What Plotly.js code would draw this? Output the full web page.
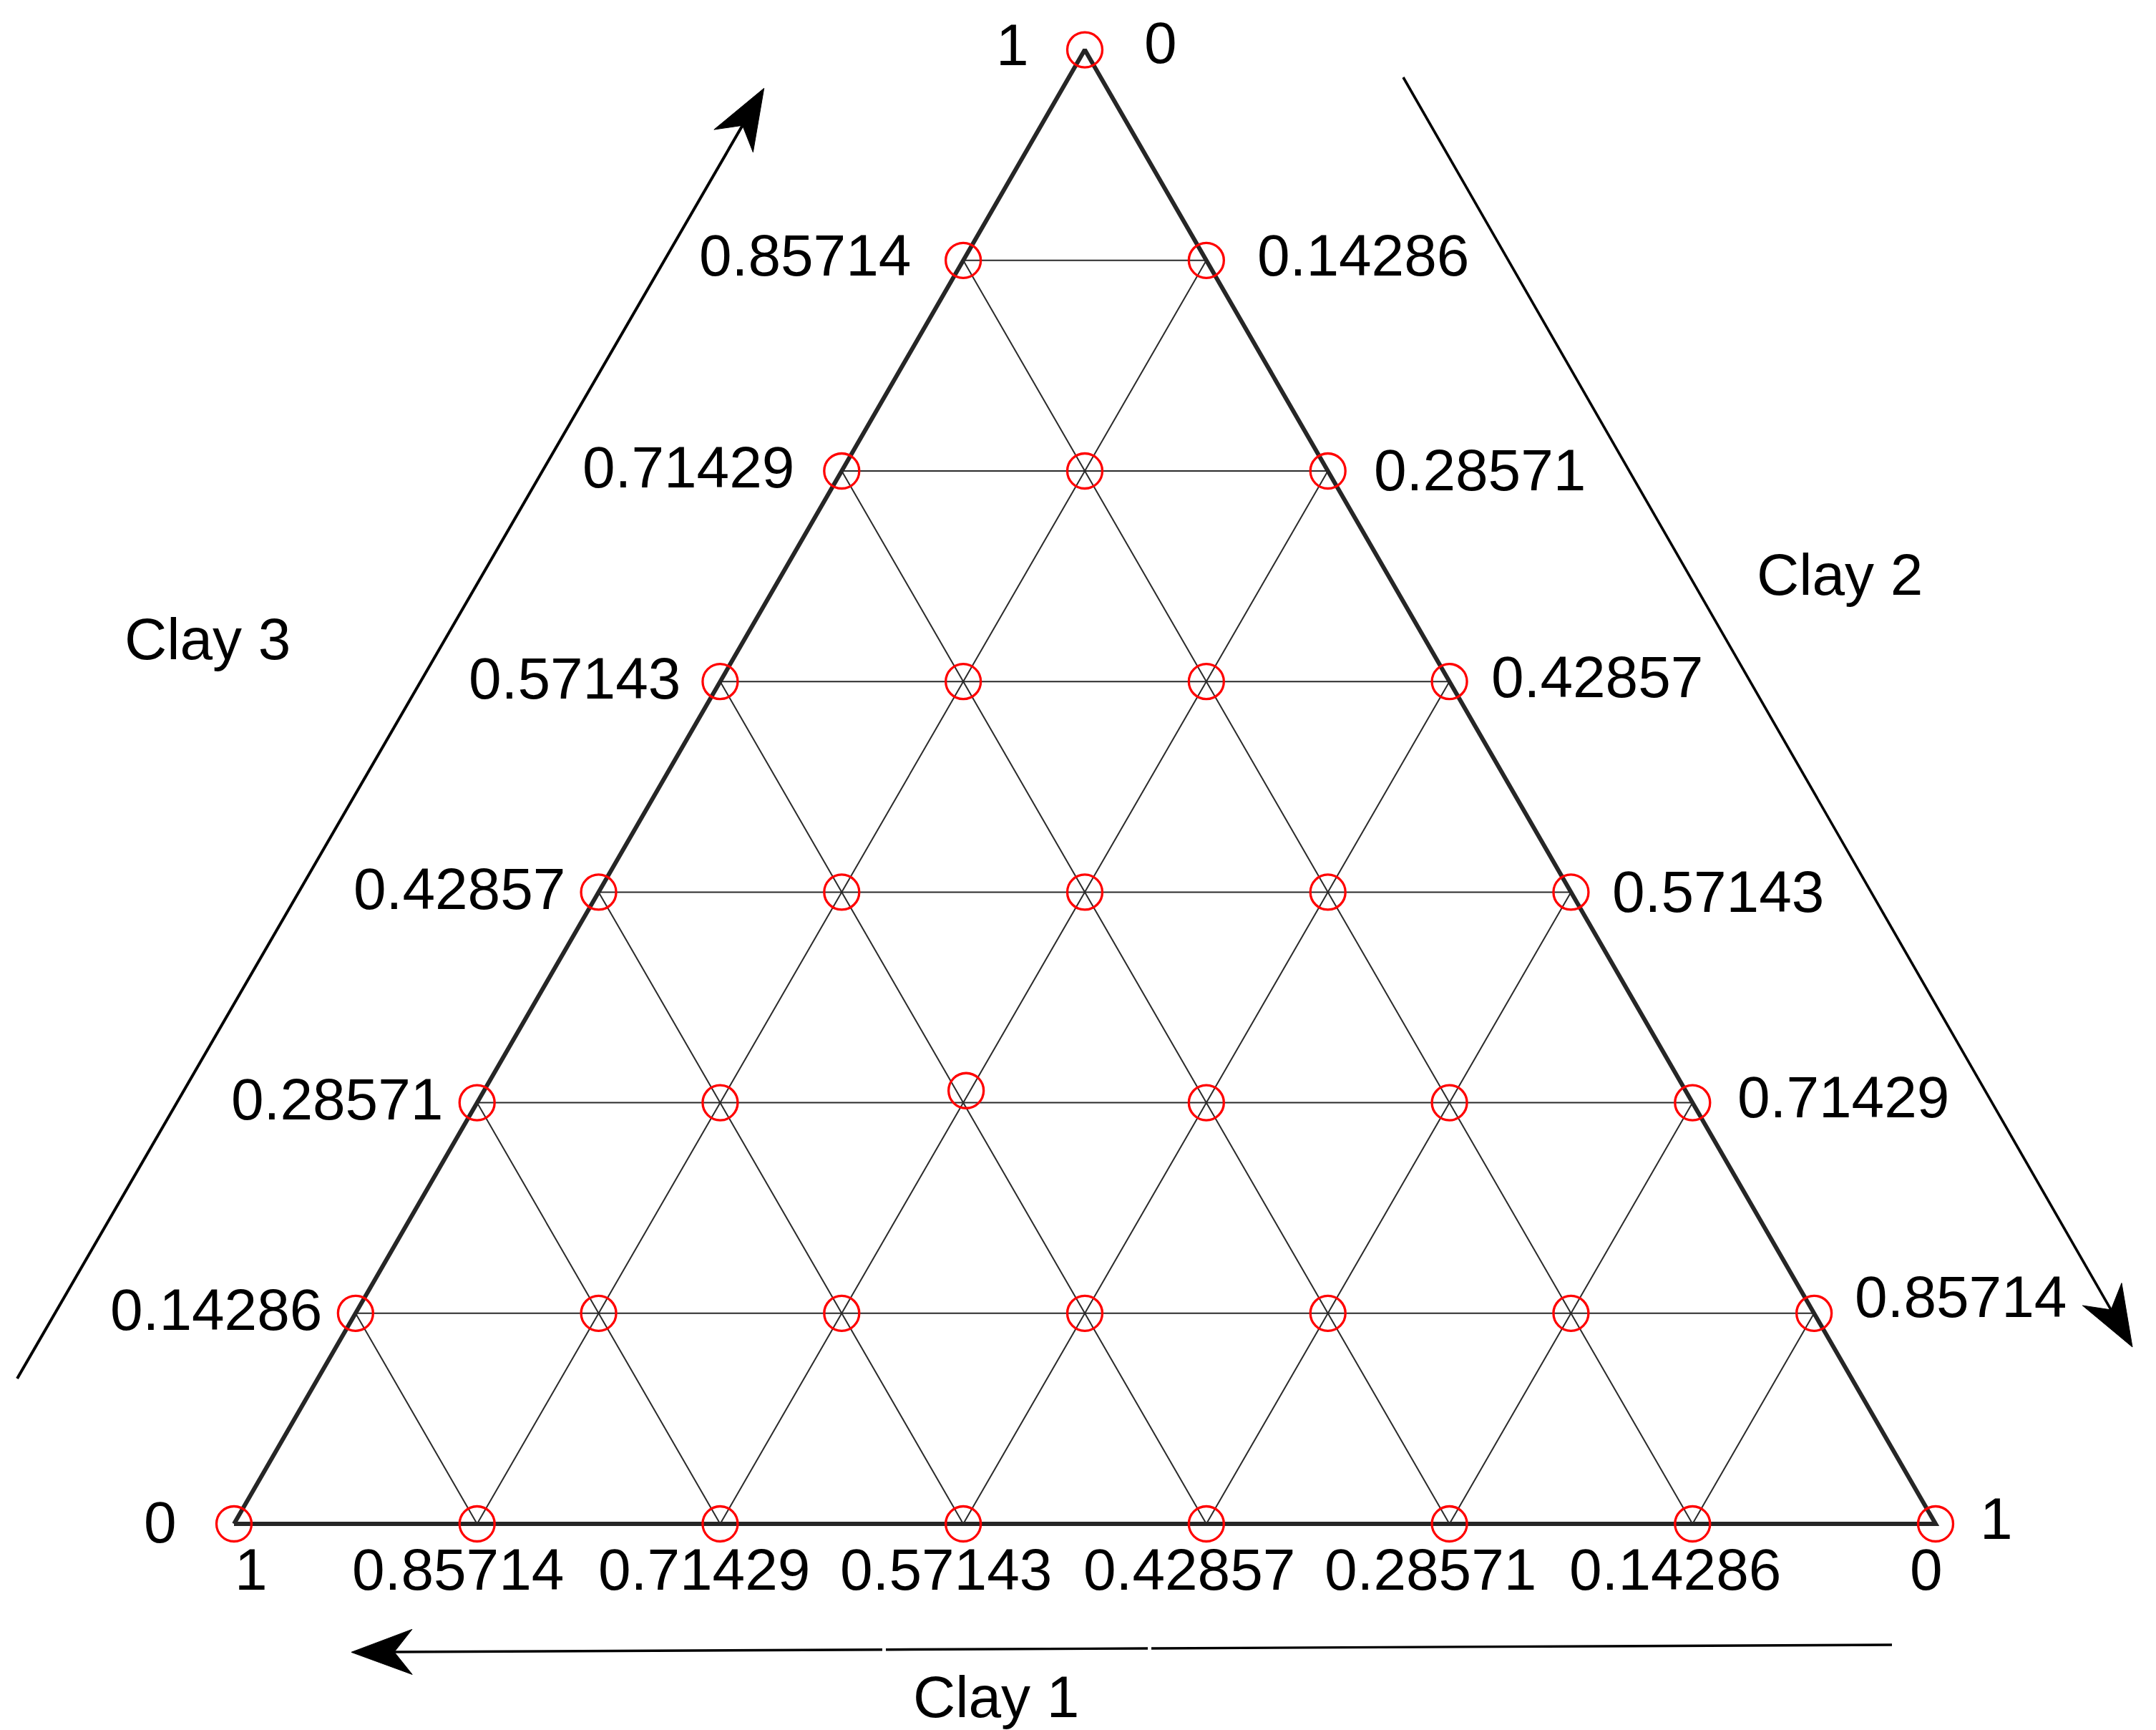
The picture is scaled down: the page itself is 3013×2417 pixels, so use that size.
<!DOCTYPE html>
<html><head><meta charset="utf-8">
<script src="https://cdn.plot.ly/plotly-3.0.1.min.js"></script>
<style>html,body{margin:0;padding:0;background:#fff;}#chart{width:3013px;height:2417px;}</style>
</head><body><div id="chart"></div>
<script>
// ---------------- DATA ----------------
const tickLabels = ['0','0.14286','0.28571','0.42857','0.57143','0.71429','0.85714','1'];
const tickValues = [0, 0.14286, 0.28571, 0.42857, 0.57143, 0.71429, 0.85714, 1];
const axisTitles = ['Clay 1', 'Clay 2', 'Clay 3'];

// design points (compositions), row by row from the base upward
const clay1 = [1,0.85714,0.71429,0.57143,0.42857,0.28571,0.14286,0,
               0.85714,0.71429,0.57143,0.42857,0.28571,0.14286,0,
               0.71429,0.57143,0.4228,0.28571,0.14286,0,
               0.57143,0.42857,0.28571,0.14286,0,
               0.42857,0.28571,0.14286,0,
               0.28571,0.14286,0,
               0.14286,0,
               0];
const clay2 = [0,0.14286,0.28571,0.42857,0.57143,0.71429,0.85714,1,
               0,0.14286,0.28571,0.42857,0.57143,0.71429,0.85714,
               0,0.14286,0.2833,0.42857,0.57143,0.71429,
               0,0.14286,0.28571,0.42857,0.57143,
               0,0.14286,0.28571,0.42857,
               0,0.14286,0.28571,
               0,0.14286,
               0];
const clay3 = [0,0,0,0,0,0,0,0,
               0.14286,0.14286,0.14286,0.14286,0.14286,0.14286,0.14286,
               0.28571,0.28571,0.2939,0.28571,0.28571,0.28571,
               0.42857,0.42857,0.42857,0.42857,0.42857,
               0.57143,0.57143,0.57143,0.57143,
               0.71429,0.71429,0.71429,
               0.85714,0.85714,
               1];

// ---------------- LAYOUT HELPERS ----------------
const W = 3013, H = 2417;
const OX = 327, OY = 2129, SC = 2378;     // pixel position of the Clay1 corner, pixels per unit side
const S3 = Math.sqrt(3) / 2;
function tx(c1, c2, c3) { const s = c1 + c2 + c3; return (c2 + c3 / 2) / s; }
function ty(c1, c2, c3) { const s = c1 + c2 + c3; return (c3 / s) * S3; }
const px = p => p / W;            // paper x from pixel
const py = p => 1 - p / H;        // paper y from pixel

const traces = [];

// grid lines
const gx = [], gy = [];
for (let i = 1; i < tickValues.length - 1; i++) {
  const t = tickValues[i];
  // constant Clay 3
  gx.push(tx(1 - t, 0, t), tx(0, 1 - t, t), null); gy.push(ty(1 - t, 0, t), ty(0, 1 - t, t), null);
  // constant Clay 2
  gx.push(tx(1 - t, t, 0), tx(0, t, 1 - t), null); gy.push(ty(1 - t, t, 0), ty(0, t, 1 - t), null);
  // constant Clay 1
  gx.push(tx(t, 1 - t, 0), tx(t, 0, 1 - t), null); gy.push(ty(t, 1 - t, 0), ty(t, 0, 1 - t), null);
}
traces.push({type:'scatter', mode:'lines', x:gx, y:gy, line:{color:'#2a2a2a', width:2}, hoverinfo:'skip', showlegend:false});

// triangle frame
traces.push({type:'scatter', mode:'lines',
  x:[tx(1,0,0), tx(0,1,0), tx(0,0,1), tx(1,0,0)],
  y:[ty(1,0,0), ty(0,1,0), ty(0,0,1), ty(1,0,0)],
  line:{color:'#262626', width:6}, hoverinfo:'skip', showlegend:false});

// design points
traces.push({type:'scatter', mode:'markers',
  x: clay1.map((a, i) => tx(a, clay2[i], clay3[i])),
  y: clay1.map((a, i) => ty(a, clay2[i], clay3[i])),
  marker:{symbol:'circle-open', size:49, color:'#ff0000', line:{color:'#ff0000', width:3.3}},
  showlegend:false});

// ---------------- TEXT ----------------
const FONT = {family:'Liberation Sans, Arial, sans-serif', size:82, color:'#000000'};
const annotations = [];
function lab(text, x, y, xs, ys) {
  annotations.push({text, x, y, xref:'x', yref:'y', xanchor:'center', yanchor:'middle',
    xshift:xs, yshift:ys, showarrow:false, font:FONT});
}
// Clay 3 labels on the left edge (row k)
const leftDX = [-103,-195,-196,-195,-203,-214,-221,-101];
const leftDY = [3,5,5,5,5,5,7,7];
// Clay 2 labels on the right edge (row k)
const rightDX = [85,205,211,206,206,212,219,106];
const rightDY = [8,23,8,1,7,1,7,10];
// Clay 1 labels on the base (node j)
const baseDX = [24,-27,-22,-24,-24,-27,-24,-13];
const baseDY = -63;
for (let k = 0; k < tickValues.length; k++) {
  const t = tickValues[k];
  lab(tickLabels[k], tx(1 - t, 0, t), ty(1 - t, 0, t), leftDX[k], leftDY[k]);
  lab(tickLabels[tickLabels.length - 1 - k], tx(0, 1 - t, t), ty(0, 1 - t, t), rightDX[k], rightDY[k]);
  lab(tickLabels[tickLabels.length - 1 - k], tx(1 - t, t, 0), ty(1 - t, t, 0), baseDX[k], baseDY);
}
// axis titles
function title(text, x, y) {
  annotations.push({text, x:px(x), y:py(y), xref:'paper', yref:'paper', xanchor:'center', yanchor:'middle',
    showarrow:false, font:FONT});
}
title(axisTitles[0], 1392, 2370);
title(axisTitles[1], 2571, 803);
title(axisTitles[2], 290, 892);

// ---------------- ARROWS ----------------
const shapes = [];
function seg(x0, y0, x1, y1, w) {
  shapes.push({type:'line', xref:'paper', yref:'paper', x0:px(x0), y0:py(y0), x1:px(x1), y1:py(y1),
    line:{color:'#000000', width:w}});
}
function head(tailX, tailY, tipX, tipY) {
  const dx = tipX - tailX, dy = tipY - tailY, L = Math.hypot(dx, dy);
  const ux = dx / L, uy = dy / L, nx = -uy, ny = ux;
  const LEN = 85, HW = 31.5, NOTCH = 60;
  const pts = [[tipX, tipY],
    [tipX - ux*LEN + nx*HW, tipY - uy*LEN + ny*HW],
    [tipX - ux*NOTCH, tipY - uy*NOTCH],
    [tipX - ux*LEN - nx*HW, tipY - uy*LEN - ny*HW]];
  const path = 'M' + pts.map(p => px(p[0]) + ',' + py(p[1])).join('L') + 'Z';
  shapes.push({type:'path', xref:'paper', yref:'paper', path, fillcolor:'#000000',
    line:{color:'#000000', width:1}});
  return [tipX - ux*(NOTCH - 4), tipY - uy*(NOTCH - 4)];
}
function arrow(tailX, tailY, tipX, tipY, w) {
  const e = head(tailX, tailY, tipX, tipY);
  seg(tailX, tailY, e[0], e[1], w);
}
// Clay 3 arrow
arrow(24, 1926, 1067.7, 123.3, 4);
// Clay 2 arrow
arrow(1961, 108, 2980, 1882, 3.6);
// Clay 1 arrow (shaft drawn in three pieces with small breaks)
const yb = x => 2305 + (1180 - x) * 0.0048;
const e1 = head(2644, yb(2644), 491, yb(491));
seg(2644, yb(2644), 1609, yb(1609), 3.4);
seg(1604, yb(1604), 1238, yb(1238), 3.4);
seg(1233, yb(1233), e1[0], e1[1], 3.4);

const layout = {
  width:W, height:H, autosize:false,
  margin:{l:0, r:0, t:0, b:0, pad:0},
  paper_bgcolor:'#ffffff', plot_bgcolor:'#ffffff',
  showlegend:false,
  xaxis:{range:[-OX / SC, (W - OX) / SC], visible:false, fixedrange:true},
  yaxis:{range:[-(H - OY) / SC, OY / SC], visible:false, fixedrange:true},
  annotations, shapes
};
Plotly.newPlot('chart', traces, layout, {staticPlot:true, displayModeBar:false});
</script></body></html>
